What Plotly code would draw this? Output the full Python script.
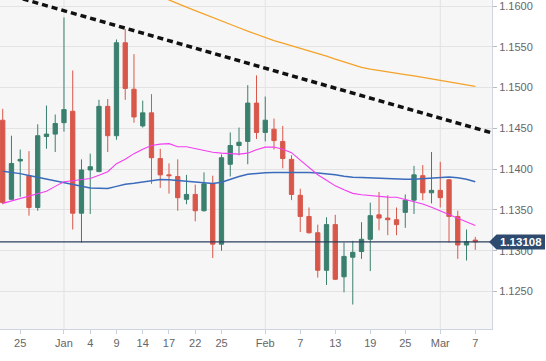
import plotly.graph_objects as go
import pandas as pd

# ---- data -------------------------------------------------------------
dates = pd.bdate_range("2018-12-21", "2019-03-07")

opens = [1.1460, 1.1363, 1.1410, 1.1392, 1.1353, 1.1440, 1.1443, 1.1457, 1.1471, 1.1346,
         1.1399, 1.1397, 1.1477, 1.1441, 1.1555, 1.1498, 1.1453, 1.1469, 1.1413, 1.1393,
         1.1391, 1.1363, 1.1369, 1.1349, 1.1382, 1.1308, 1.1406, 1.1429, 1.1434, 1.1481,
         1.1445, 1.1449, 1.1434, 1.1412, 1.1368, 1.1342, 1.1322, 1.1276, 1.1332, 1.1268,
         1.1292, 1.1299, 1.1314, 1.1344, 1.1340, 1.1338, 1.1347, 1.1362, 1.1392, 1.1371,
         1.1374, 1.1387, 1.1342, 1.1307, 1.1313]
highs = [1.1474, 1.1441, 1.1424, 1.1422, 1.1455, 1.1478, 1.1467, 1.1586, 1.1521, 1.1412,
         1.1419, 1.1485, 1.1486, 1.1559, 1.1572, 1.1541, 1.1484, 1.1492, 1.1425, 1.1407,
         1.1412, 1.1393, 1.1381, 1.1396, 1.1392, 1.1418, 1.1445, 1.1451, 1.1503, 1.1515,
         1.1489, 1.1462, 1.1453, 1.1417, 1.1376, 1.1353, 1.1332, 1.1341, 1.1344, 1.1310,
         1.1312, 1.1335, 1.1359, 1.1372, 1.1368, 1.1353, 1.1369, 1.1404, 1.1405, 1.1421,
         1.1409, 1.1388, 1.1349, 1.1326, 1.1317]
lows = [1.1357, 1.1362, 1.1366, 1.1343, 1.1349, 1.1425, 1.1421, 1.1446, 1.1326, 1.1310,
        1.1345, 1.1397, 1.1421, 1.1436, 1.1485, 1.1457, 1.1451, 1.1382, 1.1377, 1.1370,
        1.1349, 1.1357, 1.1336, 1.1348, 1.1291, 1.1300, 1.1391, 1.1417, 1.1406, 1.1437,
        1.1434, 1.1424, 1.1401, 1.1362, 1.1323, 1.1321, 1.1267, 1.1258, 1.1264, 1.1249,
        1.1234, 1.1290, 1.1275, 1.1325, 1.1319, 1.1319, 1.1328, 1.1345, 1.1362, 1.1358,
        1.1353, 1.1310, 1.1290, 1.1288, 1.1301]
closes = [1.1359, 1.1407, 1.1412, 1.1353, 1.1441, 1.1443, 1.1456, 1.1473, 1.1346, 1.1399,
          1.1403, 1.1477, 1.1441, 1.1555, 1.1499, 1.1464, 1.1469, 1.1414, 1.1393, 1.1392,
          1.1365, 1.1369, 1.1349, 1.1382, 1.1308, 1.1414, 1.1429, 1.1433, 1.1481, 1.1445,
          1.1460, 1.1435, 1.1413, 1.1369, 1.1342, 1.1322, 1.1276, 1.1332, 1.1265, 1.1293,
          1.1298, 1.1314, 1.1343, 1.1340, 1.1338, 1.1332, 1.1362, 1.1393, 1.1371, 1.1374,
          1.1365, 1.1342, 1.1307, 1.1311, 1.13108]

ma_fast = [1.13580, 1.13610, 1.13641, 1.13666, 1.13697, 1.13728, 1.13789, 1.13845, 1.13857, 1.13870,
           1.13885, 1.13925, 1.13968, 1.14067, 1.14122, 1.14190, 1.14245, 1.14289, 1.14307, 1.14313,
           1.14274, 1.14274, 1.14252, 1.14233, 1.14208, 1.14196, 1.14192, 1.14184, 1.14196, 1.14239,
           1.14270, 1.14272, 1.14245, 1.14202, 1.14110, 1.14017, 1.13931, 1.13863, 1.13795, 1.13746,
           1.13703, 1.13687, 1.13675, 1.13666, 1.13657, 1.13656, 1.13629, 1.13608, 1.13573, 1.13533,
           1.13487, 1.13450, 1.13401, 1.13352, 1.13308]
ma_mid = [1.13975, 1.13962, 1.13945, 1.13922, 1.13900, 1.13876, 1.13851, 1.13826, 1.13804, 1.13783,
          1.13768, 1.13765, 1.13762, 1.13789, 1.13814, 1.13826, 1.13841, 1.13860, 1.13872, 1.13870,
          1.13863, 1.13853, 1.13843, 1.13832, 1.13823, 1.13839, 1.13876, 1.13909, 1.13937, 1.13950,
          1.13956, 1.13960, 1.13962, 1.13964, 1.13964, 1.13960, 1.13953, 1.13946, 1.13931, 1.13913,
          1.13900, 1.13897, 1.13892, 1.13888, 1.13882, 1.13876, 1.13876, 1.13876, 1.13884, 1.13892,
          1.13898, 1.13903, 1.13894, 1.13876, 1.13845]
ma_slow_start = "2019-01-15"
ma_slow = [1.16163, 1.16117, 1.16073, 1.16030, 1.15986, 1.15945, 1.15901, 1.15858, 1.15816, 1.15774,
           1.15734, 1.15692, 1.15651, 1.15610, 1.15577, 1.15546, 1.15515, 1.15481, 1.15448, 1.15414,
           1.15386, 1.15349, 1.15314, 1.15277, 1.15247, 1.15226, 1.15207, 1.15189, 1.15174, 1.15158,
           1.15143, 1.15125, 1.15109, 1.15093, 1.15075, 1.15057, 1.15037, 1.15016]

# resistance trend line anchors (bar offsets and prices)
trend_bars = [-1, 57]
trend_vals = [1.16188, 1.14411]

tick_dates = ["2018-12-25", "2019-01-01", "2019-01-04", "2019-01-09", "2019-01-14",
              "2019-01-17", "2019-01-22", "2019-01-25", "2019-02-01", "2019-02-07",
              "2019-02-13", "2019-02-19", "2019-02-25", "2019-03-01", "2019-03-07"]
tick_labels = ["25", "Jan", "4", "9", "14", "17", "22", "25", "Feb", "7",
               "13", "19", "25", "Mar", "7"]
month_starts = ["2019-01-01", "2019-02-01", "2019-03-01"]
y_ticks = [1.1250, 1.1300, 1.1350, 1.1400, 1.1450, 1.1500, 1.1550, 1.1600]

# ---- figure -----------------------------------------------------------
idx = list(range(len(dates)))
pos = {d: i for i, d in enumerate(dates)}
slow_i0 = pos[pd.Timestamp(ma_slow_start)]
slow_x = idx[slow_i0:slow_i0 + len(ma_slow)]

GREEN = "#3b7f6e"
RED = "#d8574a"
W, H = 546, 361
ML, MR, MT, MB = 0, 54, 0, 32
YMIN, YMAX = 1.1204, 1.16074
XMIN, XMAX = -0.31, 55.91

fig = go.Figure()
fig.add_trace(go.Candlestick(
    x=idx, open=opens, high=highs, low=lows, close=closes,
    increasing=dict(line=dict(color=GREEN, width=1), fillcolor=GREEN),
    decreasing=dict(line=dict(color=RED, width=1), fillcolor=RED),
    whiskerwidth=0, hoverinfo="skip", showlegend=False))
fig.add_trace(go.Scatter(x=slow_x, y=ma_slow, mode="lines",
                         line=dict(color="#f5a229", width=1.3), hoverinfo="skip"))
fig.add_trace(go.Scatter(x=idx, y=ma_mid, mode="lines",
                         line=dict(color="#3b6bbb", width=1.5), hoverinfo="skip"))
fig.add_trace(go.Scatter(x=idx, y=ma_fast, mode="lines",
                         line=dict(color="#f23ef2", width=1.1), hoverinfo="skip"))
fig.add_trace(go.Scatter(x=trend_bars, y=trend_vals, mode="lines",
                         line=dict(color="#111111", width=3.5, dash="6px,4px"),
                         hoverinfo="skip"))

shapes = []
for m in month_starts:
    xi = pos[pd.Timestamp(m)]
    shapes.append(dict(type="line", xref="x", yref="paper", x0=xi, x1=xi, y0=0, y1=1,
                       line=dict(color="#e2e2e2", width=1), layer="below"))
last = closes[-1]
shapes.append(dict(type="line", xref="paper", yref="y", x0=0, x1=1, y0=last, y1=last,
                   line=dict(color="#2c3f5e", width=1.3), layer="above"))

# price tag on the right
plot_w = W - ML - MR
plot_h = H - MT - MB
py = (last - YMIN) / (YMAX - YMIN)
half = 7.5 / plot_h
x_tip = 1 - 3.0 / plot_w
x_l = 1 + 4.5 / plot_w
x_r = 1 + 53.0 / plot_w
shapes.append(dict(type="path", xref="paper", yref="paper",
                   path=f"M {x_tip},{py} L {x_l},{py + half} L {x_r},{py + half} "
                        f"L {x_r},{py - half} L {x_l},{py - half} Z",
                   fillcolor="#2e4a6e", line=dict(width=0), layer="above"))

fig.update_layout(
    width=W, height=H,
    margin=dict(l=ML, r=MR, t=MT, b=MB, pad=0, autoexpand=False),
    paper_bgcolor="white", plot_bgcolor="#f6f6f6",
    showlegend=False,
    font=dict(family="Liberation Sans, Arial, sans-serif", size=11, color="#666666"),
    shapes=shapes,
    annotations=[dict(xref="paper", yref="paper", x=(x_l + x_r) / 2, y=py,
                      text=f"<b>{last:.5f}</b>", showarrow=False,
                      font=dict(color="white", size=11.5,
                                family="Liberation Sans, Arial, sans-serif"),
                      xanchor="center", yanchor="middle")],
    xaxis=dict(range=[XMIN, XMAX], rangeslider=dict(visible=False), automargin=False,
               tickvals=[pos[pd.Timestamp(d)] for d in tick_dates], ticktext=tick_labels,
               showgrid=False, zeroline=False, ticks="outside", ticklen=4,
               tickcolor="#c9d0dd", showline=True, linecolor="#cdd4e2", linewidth=1,
               tickfont=dict(size=11, color="#666666")),
    yaxis=dict(range=[YMIN, YMAX], side="right", tickvals=y_ticks, tickformat=".4f",
               automargin=False, ticklabeloverflow="allow",
               showgrid=True, gridcolor="#e3e3e3", gridwidth=1, zeroline=False,
               ticks="outside", ticklen=4, tickcolor="#bbbbbb",
               showline=True, linecolor="#cdd4e2", linewidth=1,
               tickfont=dict(size=11, color="#666666")),
)

fig.write_html("out.html", config={"displayModeBar": False},
               post_script="document.body.style.margin='0';"
                           "document.body.style.overflow='hidden';")
